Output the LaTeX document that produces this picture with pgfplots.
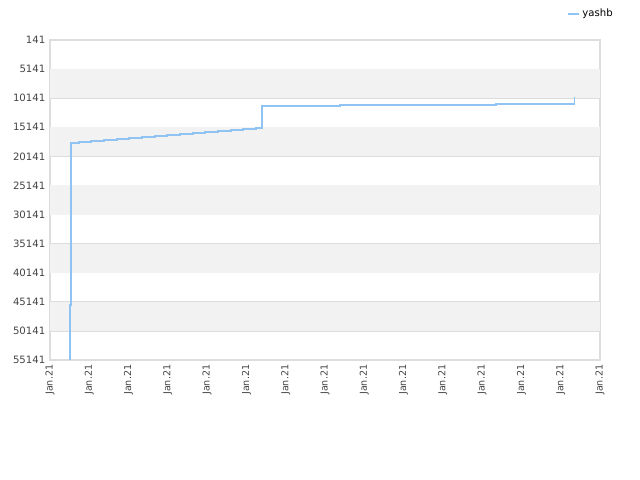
\documentclass[border=0pt]{standalone}
\usepackage{pgfplots}
\pgfplotsset{compat=1.18}
\usepackage{fontspec}
\setmainfont{DejaVu Sans}
\definecolor{linec}{RGB}{145,195,242}
\definecolor{bandc}{RGB}{242,242,242}
\definecolor{gridc}{RGB}{221,221,221}
\definecolor{txtc}{RGB}{68,68,68}
\begin{document}
\begin{tikzpicture}[x=1pt,y=1pt]
\begin{axis}[
  scale only axis,
  width=412.5pt, height=240pt,
  xmin=0, xmax=14, ymin=141, ymax=55141,
  y dir=reverse,
  ytick={141,5141,10141,15141,20141,25141,30141,35141,40141,45141,50141,55141},
  xtick={0,1,...,14},
  xticklabels={Jan.21,Jan.21,Jan.21,Jan.21,Jan.21,Jan.21,Jan.21,Jan.21,Jan.21,Jan.21,Jan.21,Jan.21,Jan.21,Jan.21,Jan.21},
  x tick label style={rotate=90, anchor=east, font=\fontsize{7.2pt}{8pt}\selectfont, text=txtc},
  y tick label style={font=\fontsize{7.6pt}{9pt}\selectfont, text=txtc},
  /pgf/number format/assume math mode=true,
  /pgf/number format/set thousands separator={},
  scaled y ticks=false,
  ymajorgrids, grid style={gridc, line width=0.6pt},
  major tick length=0pt,
  axis line style={gridc, line width=0.8pt},
  axis on top=false,
  legend style={at={(axis description cs:0.94,1.081)}, anchor=west, draw=none, fill=none,
     font=\fontsize{7.6pt}{9pt}\selectfont, inner sep=0pt, legend cell align=left},
  legend image code/.code={\draw[#1] (0pt,0pt) -- (8pt,0pt);},
  clip=true,
]
\fill[bandc] (axis cs:0,5141) rectangle (axis cs:14,10141);
\fill[bandc] (axis cs:0,15141) rectangle (axis cs:14,20141);
\fill[bandc] (axis cs:0,25141) rectangle (axis cs:14,30141);
\fill[bandc] (axis cs:0,35141) rectangle (axis cs:14,40141);
\fill[bandc] (axis cs:0,45141) rectangle (axis cs:14,50141);
\addplot[const plot, color=linec, line width=1.4pt] coordinates {
 (0.496,55141) (0.500,45687) (0.535,27297) (0.540,17793)
 (0.738,17621) (1.044,17449) (1.375,17277) (1.705,17105) (2.011,16933)
 (2.342,16761) (2.673,16589) (2.978,16417) (3.309,16245) (3.640,16073)
 (3.945,15901) (4.276,15729) (4.607,15557) (4.913,15385) (5.244,15215)
 (5.396,11433) (7.382,11261) (11.353,11089) (13.350,10000)
};
\addlegendentry{yashb}
\node[font=\fontsize{9.2pt}{11pt}\selectfont, text=txtc] at (axis description cs:0.489,1.084) {Historial de clasificación para yashb};
\end{axis}
\pgfresetboundingbox
\path ([shift={(-37.5pt,-90pt)}]current axis.south west) rectangle ([shift={(30pt,30pt)}]current axis.north east);
\end{tikzpicture}
\end{document}
